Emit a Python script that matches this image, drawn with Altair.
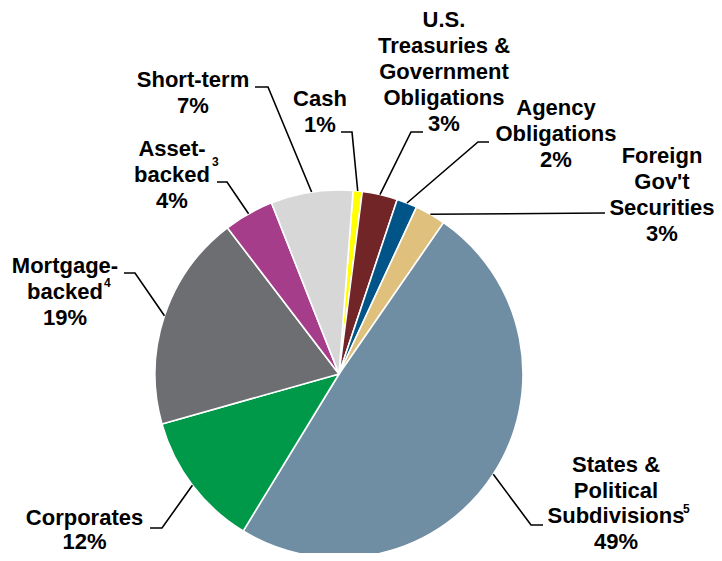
import math
import altair as alt
import pandas as pd

# ---------------- data ----------------
names = [
    "Cash",
    "U.S. Treasuries & Government Obligations",
    "Agency Obligations",
    "Foreign Gov't Securities",
    "States & Political Subdivisions",
    "Corporates",
    "Mortgage-backed",
    "Asset-backed",
    "Short-term",
]
values = [0.8, 3.1, 1.8, 2.7, 49.1, 11.9, 19.0, 4.4, 7.2]
pct_labels = ["1%", "3%", "2%", "3%", "49%", "12%", "19%", "4%", "7%"]
label_lines = [
    ["Cash"],
    ["U.S.", "Treasuries &", "Government", "Obligations"],
    ["Agency", "Obligations"],
    ["Foreign", "Gov't", "Securities"],
    ["States &", "Political", "Subdivisions"],
    ["Corporates"],
    ["Mortgage-", "backed"],
    ["Asset-", "backed"],
    ["Short-term"],
]
footnotes = ["", "", "", "", "5", "", "4", "3", ""]

# ---------------- styles / layout ----------------
colors = ["#FFFF00", "#722527", "#005487", "#DFC07D", "#6F8DA3",
          "#00994A", "#6D6E71", "#A63D8A", "#D7D7D7"]
W, H = 706, 545
CX, CY, R = 339, 374, 184          # pie centre / radius (page px)
START_DEG = 4.4                     # rotation of first slice
FONT = "Liberation Sans"
FS = 22
STEP = 26

layout = [
    dict(x=320, y=106, elbow=(352, 132), end=(341, 132)),
    dict(x=444, y=27.3, elbow=(411, 132), end=(423, 132)),
    dict(x=556, y=115, elbow=(478, 142), end=(489, 142)),
    dict(x=662, y=162.7, elbow=None, end=(605, 213)),
    dict(x=616, y=472, step=25.5, elbow=(531, 525), end=(543, 525), sup=(683, 513)),
    dict(x=84.5, y=524.5, step=24, elbow=(162, 528), end=(150, 528)),
    dict(x=65, y=272.7, elbow=(135, 273), end=(124, 273), sup=(104, 287)),
    dict(x=172, y=156, elbow=(227, 182), end=(217, 182), sup=(212, 166)),
    dict(x=193, y=87.3, elbow=(268, 87), end=(255, 87)),
]

# ---------------- tables ----------------
pie_df = pd.DataFrame({
    "name": names, "value": values, "ord": list(range(len(names))),
    "cx": [CX] * len(names), "cy": [CY] * len(names),
})

total = sum(values)
lines_rows, text_rows, sup_rows = [], [], []
cum = 0.0
for i, n in enumerate(names):
    mid = START_DEG + (cum + values[i] / 2) / total * 360.0
    cum += values[i]
    a = math.radians(mid)
    ex, ey = CX + R * math.sin(a), CY - R * math.cos(a)
    L = layout[i]
    pts = [(ex, ey)]
    if L["elbow"] is not None:
        pts.append(L["elbow"])
    pts.append(L["end"])
    for s, (px, py) in enumerate(pts):
        lines_rows.append(dict(label=n, seq=s, x=px, y=py))
    step = L.get("step", STEP)
    for k, t in enumerate(label_lines[i] + [pct_labels[i]]):
        text_rows.append(dict(text=t, x=L["x"], y=L["y"] + k * step))
    if footnotes[i]:
        sx, sy = L["sup"]
        sup_rows.append(dict(text=footnotes[i], x=sx, y=sy))

lines_df = pd.DataFrame(lines_rows)
text_df = pd.DataFrame(text_rows)
sup_df = pd.DataFrame(sup_rows)
shadow_df = pd.DataFrame({"v": [1, 1, 1], "cx": [CX + 1, CX + 2, CX + 3],
                          "cy": [CY + 2, CY + 3, CY + 4]})

xs = alt.Scale(domain=[8, 8 + W], nice=False, zero=False)
ys = alt.Scale(domain=[8, 8 + H], nice=False, zero=False, reverse=True)
theta_range = [math.radians(START_DEG), math.radians(START_DEG) + 2 * math.pi]

shadow = alt.Chart(shadow_df).mark_arc(outerRadius=R + 1, color="#000000", opacity=0.08).encode(
    theta=alt.Theta("v:Q"),
    x=alt.X("cx:Q", scale=xs, axis=None),
    y=alt.Y("cy:Q", scale=ys, axis=None),
    detail="cx:N",
)

pie = alt.Chart(pie_df).mark_arc(outerRadius=R, stroke="white", strokeWidth=1.6).encode(
    theta=alt.Theta("value:Q", stack=True, scale=alt.Scale(range=theta_range)),
    color=alt.Color("name:N", scale=alt.Scale(domain=names, range=colors), legend=None),
    order=alt.Order("ord:Q"),
    x=alt.X("cx:Q", scale=xs, axis=None),
    y=alt.Y("cy:Q", scale=ys, axis=None),
)

leaders = alt.Chart(lines_df).mark_line(color="black", strokeWidth=1.6).encode(
    x=alt.X("x:Q", scale=xs, axis=None),
    y=alt.Y("y:Q", scale=ys, axis=None),
    detail="label:N",
    order="seq:Q",
)

labels = alt.Chart(text_df).mark_text(
    font=FONT, fontSize=FS, fontWeight="bold", color="black",
    align="center", baseline="alphabetic",
).encode(
    x=alt.X("x:Q", scale=xs, axis=None),
    y=alt.Y("y:Q", scale=ys, axis=None),
    text="text:N",
)

sups = alt.Chart(sup_df).mark_text(
    font=FONT, fontSize=12, fontWeight="bold", color="black",
    align="left", baseline="alphabetic",
).encode(
    x=alt.X("x:Q", scale=xs, axis=None),
    y=alt.Y("y:Q", scale=ys, axis=None),
    text="text:N",
)

chart = alt.layer(shadow, pie, leaders, labels, sups).properties(
    width=W, height=H, padding=0, autosize=alt.AutoSizeParams(type="none"),
).configure_view(stroke=None)

chart.save("out.html", embed_options={"renderer": "svg", "actions": False})
